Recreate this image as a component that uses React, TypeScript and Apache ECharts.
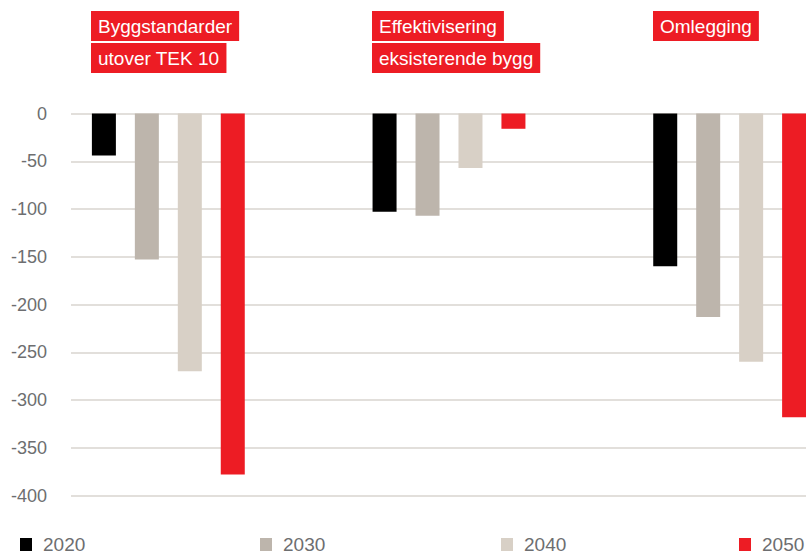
import React, { useEffect, useRef } from "react";
import * as echarts from "echarts";

const categories = ["Byggstandarder utover TEK 10", "Effektivisering eksisterende bygg", "Omlegging"];
const labelLines = [["Byggstandarder", "utover TEK 10"], ["Effektivisering", "eksisterende bygg"], ["Omlegging"]];
const years = ["2020", "2030", "2040", "2050"];
const v2020 = [-44, -103, -160];
const v2030 = [-153, -107, -213];
const v2040 = [-270, -57, -260];
const v2050 = [-378, -16, -318];
const yearColors = ["#000000", "#bdb5ac", "#d8d0c6", "#ed1c24"];
const legendLeft = [20, 260, 501, 739];

const FONT = '"Liberation Sans", Arial, Helvetica, sans-serif';

export default function App() {
  const ref = useRef<HTMLDivElement>(null);
  useEffect(() => {
    if (!ref.current) return;
    const chart = echarts.init(ref.current, null, { renderer: "svg" });
    const seriesValues = [v2020, v2030, v2040, v2050];
    const option: any = {
      animation: false,
      backgroundColor: "#ffffff",
      grid: [
        { left: 28, right: 0, top: 113.5, bottom: 59.5, containLabel: false },
        { left: 71, right: 64, top: 113.5, bottom: 59.5, containLabel: false },
      ],
      xAxis: [
        {
          type: "category",
          gridIndex: 0,
          data: categories,
          axisLine: { show: false },
          axisTick: { show: false },
          axisLabel: { show: false },
        },
        {
          type: "category",
          gridIndex: 1,
          data: categories,
          show: false,
        },
      ],
      yAxis: [
        {
          type: "value",
          gridIndex: 0,
          min: -400,
          max: 0,
          interval: 50,
          axisLine: { show: false },
          axisTick: { show: false },
          axisLabel: { show: false },
          splitLine: { show: false },
        },
        {
          type: "value",
          gridIndex: 1,
          min: -400,
          max: 0,
          interval: 50,
          axisLine: { show: false },
          axisTick: { show: false },
          axisLabel: { color: "#6d6e70", fontSize: 18, fontFamily: FONT, margin: 24 },
          splitLine: { show: true, lineStyle: { color: "#d9d4cf", width: 1.5 } },
        },
      ],
      legend: years.map((y, i) => ({
        data: [y],
        left: legendLeft[i],
        top: 535,
        padding: 0,
        icon: "rect",
        itemWidth: 12,
        itemHeight: 13,
        textStyle: { color: "#6d6e70", fontSize: 19, fontFamily: FONT, padding: [0, 0, 0, 6] },
        selectedMode: false,
      })),
      series: years.map((y, i) => ({
        name: y,
        type: "bar",
        xAxisIndex: 0,
        yAxisIndex: 0,
        data: seriesValues[i],
        barWidth: 24,
        barGap: "79%",
        itemStyle: { color: yearColors[i] },
        z: 3,
      })),
    };
    chart.setOption(option);

    const graphics: any[] = [];
    categories.forEach((c, ci) => {
      const center = chart.convertToPixel({ xAxisIndex: 0 }, c) as number;
      const left = Math.round(center - 77);
      labelLines[ci].forEach((line, li) => {
        graphics.push({
          type: "text",
          x: left,
          y: 11 + li * 32,
          z: 10,
          style: {
            text: line,
            fill: "#ffffff",
            fontSize: 19,
            fontFamily: FONT,
            lineHeight: 20,
            backgroundColor: "#ed1c24",
            padding: [5, 7, 5, 7],
          },
        });
      });
    });
    chart.setOption({ graphic: graphics });

    return () => chart.dispose();
  }, []);
  return (
    <div style={{ position: "absolute", left: 0, top: 0, width: 806, height: 555, overflow: "hidden" }}>
      <div ref={ref} style={{ width: 870, height: 555 }} />
    </div>
  );
}
